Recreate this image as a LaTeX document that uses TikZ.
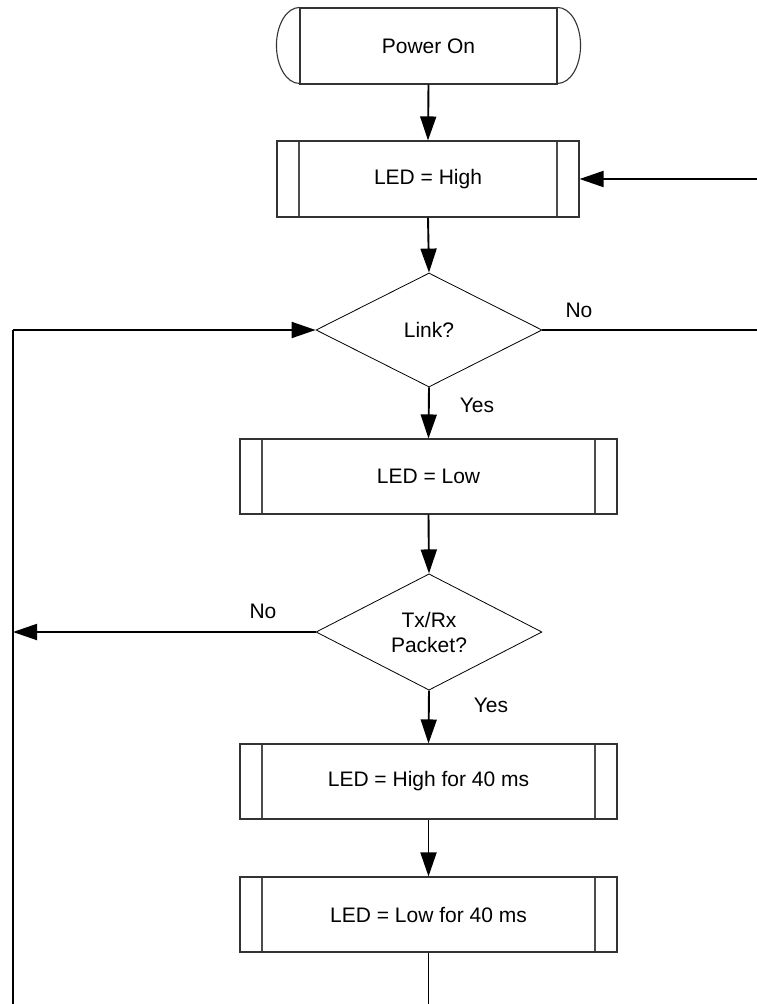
\documentclass[tikz,border=0pt]{standalone}
\usepackage{fontspec}
\setmainfont{Liberation Sans}
\usetikzlibrary{arrows.meta,shapes.geometric,calc}
\tikzset{
  every node/.style={font=\fontsize{21}{25}\selectfont},
  procbox/.style={draw=black!80, line width=1.1pt, minimum width=377pt, minimum height=75pt, inner sep=0pt,
    path picture={
      \draw[black!70, line width=1.1pt] ([xshift=22pt]path picture bounding box.north west) -- ([xshift=22pt]path picture bounding box.south west);
      \draw[black!70, line width=1.1pt] ([xshift=-22pt]path picture bounding box.north east) -- ([xshift=-22pt]path picture bounding box.south east);
    }},
  decide/.style={diamond, draw=black, line width=0.8pt, minimum width=226pt, minimum height=114pt, inner sep=0pt, align=center},
  termbox/.style={draw=black!80, line width=1.1pt, minimum width=257pt, minimum height=76pt, inner sep=0pt},
  conn/.style={draw=black, line width=1.9pt},
  arr/.style={conn, -{Triangle[length=24pt,width=16pt]}},
  lbl/.style={inner sep=0pt}
}
\begin{document}
\begin{tikzpicture}[x=1pt,y=-1pt]
\useasboundingbox (0,0) rectangle (757,1004);
\clip (0,0) rectangle (757,1004);
\fill[white] (0,0) rectangle (757,1004);
% nodes
\node[termbox] (pwr) at (428.5,46) {Power On};
\draw[black!80, line width=1.1pt] (pwr.north west) arc[start angle=90, end angle=270, x radius=23pt, y radius=38pt];
\draw[black!80, line width=1.1pt] (pwr.north east) arc[start angle=90, end angle=-90, x radius=23pt, y radius=38pt];
\node[procbox, minimum width=302pt, minimum height=76pt] (ledh) at (428,179) {LED = High};
\node[decide] (link) at (429,330) {Link?};
\node[procbox] (ledl) at (428.5,476.5) {LED = Low};
\node[decide] (tx) at (429,632) {Tx/Rx\\Packet?};
\node[procbox] (h40) at (428.5,781.5) {LED = High for 40 ms};
\node[procbox] (l40) at (428.5,914.5) {LED = Low for 40 ms};
% labels
\node[lbl] (no1) at (579,310) {No};
\node[lbl] (yes1) at (477,405) {Yes};
\node[lbl] (no2) at (263,611) {No};
\node[lbl] (yes2) at (491,705) {Yes};
% free ends
\coordinate (rtop) at (770,179);
\coordinate (rlow) at (770,330);
\coordinate (lbot) at (13,1020);
\coordinate (cbot) at (428.5,1020);
\coordinate (lleft) at (13,330);
\coordinate (txl) at (13,632);
% connectors
\draw[arr] (pwr.south) -- (ledh.north);
\draw[arr] (ledh.south) -- (link.north);
\draw[arr] (link.south) -- (ledl.north);
\draw[arr] (ledl.south) -- (tx.north);
\draw[arr] (tx.south) -- (h40.north);
\draw[arr] (h40.south) -- (l40.north);
\draw[conn] (link.east) -- (rlow) -- (rtop);
\draw[arr] (rtop) -- (ledh.east);
\draw[arr] (tx.west) -- (txl);
\draw[conn] (l40.south) -- (cbot) -- (lbot) -- (lleft);
\draw[arr] (lleft) -- (link.west);
\end{tikzpicture}
\end{document}
